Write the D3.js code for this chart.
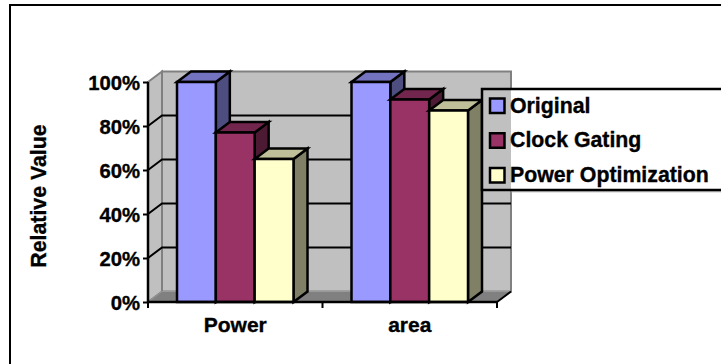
<!DOCTYPE html>
<html>
<head>
<meta charset="utf-8">
<script src="https://cdn.jsdelivr.net/npm/d3@7"></script>
<style>
body{margin:0;background:#fff}
svg{display:block}
text{font-family:"Liberation Sans",Arial,sans-serif;font-weight:bold;fill:#000;stroke:#000;stroke-width:0.35px}
</style>
</head>
<body>
<div id="chart"></div>
<script>
var categories = ["Power","area"]
var seriesNames = ["Original","Clock Gating","Power Optimization"]
var original = [100,100]
var clockGating = [77,92]
var powerOpt = [65,87]
var yTicks = [0,20,40,60,80,100]
var seriesValues = [original,clockGating,powerOpt]

var faceColors = ["#9999ff","#993366","#ffffcc"]
var topColors = ["#7373bf","#73264d","#bfbf99"]
var sideColors = ["#4d4d80","#4d1a33","#808066"]

var svg = d3.select("#chart").append("svg").attr("width",721).attr("height",364)

//* outer frame, only top and left are visible
svg.append("path").attr("d","M10,364V5H721").attr("fill","none").attr("stroke","#000").attr("stroke-width",2)

var x = d3.scaleBand().domain(categories).range([148,497])
var xBar = d3.scaleBand().domain(seriesNames).range([29,145.5])
var y = d3.scaleLinear().domain([0,100]).range([302,82])
var dx = 14, dy = -10.5  //depth of the 3d box

function poly(g,pts,fill,stroke,w){
    return g.append("polygon").attr("points",pts.map(p => p.join(",")).join(" "))
        .attr("fill",fill).attr("stroke",stroke).attr("stroke-width",w).attr("stroke-linejoin","miter")
}

//* walls and floor
var x0 = x.range()[0], x1 = x.range()[1]
var walls = svg.append("g")
poly(walls,[[x0+dx,y(100)+dy],[x1+dx,y(100)+dy],[x1+dx,y(0)+dy],[x0+dx,y(0)+dy]],"#c0c0c0","#808080",2)
poly(walls,[[x0,y(100)],[x0+dx,y(100)+dy],[x0+dx,y(0)+dy],[x0,y(0)]],"#c0c0c0","#808080",2)
poly(walls,[[x0,y(0)],[x0+dx,y(0)+dy],[x1+dx,y(0)+dy],[x1,y(0)]],"#808080","#999999",1)

//* gridlines on the back wall, with the diagonal on the side wall
yTicks.filter(t => t>0 && t<100).forEach(t => {
    walls.append("path").attr("d","M"+x0+","+y(t)+"L"+(x0+dx)+","+(y(t)+dy)+"H"+(x1+dx))
        .attr("fill","none").attr("stroke","#000").attr("stroke-width",2)
})
walls.append("line").attr("x1",x1).attr("y1",y(0)).attr("x2",x1+dx).attr("y2",y(0)+dy)
    .attr("stroke","#000").attr("stroke-width",2)

//* bars, drawn left to right so the next bar covers the side of the previous one
var bars = svg.append("g")
categories.forEach((c,i) => {
    seriesNames.forEach((s,j) => {
        var l = x(c)+xBar(s), r = l+xBar.bandwidth(), t = y(seriesValues[j][i]), b = y(0)
        poly(bars,[[r,t],[r+dx,t+dy],[r+dx,b+dy],[r,b]],sideColors[j],"#000",2.5)
        poly(bars,[[l,t],[l+dx,t+dy],[r+dx,t+dy],[r,t]],topColors[j],"#000",2.5)
        poly(bars,[[l,t],[r,t],[r,b],[l,b]],faceColors[j],"#000",2.5)
    })
})

//* axes
var yAxis = svg.append("g").attr("transform","translate("+x0+",0)")
    .call(d3.axisLeft(y).tickValues(yTicks).tickFormat(d => d+"%").tickSize(5).tickPadding(3))
yAxis.selectAll("path").attr("stroke","#000").attr("stroke-width",2.5).attr("d","M0,"+y(100)+"V"+(y(0)+1))
yAxis.selectAll("line").attr("stroke","#000").attr("stroke-width",2)
yAxis.selectAll("text").style("font-family",null).style("font-size","20.3px").attr("dy","0.36em")

var xAxis = svg.append("g").attr("transform","translate(0,"+y(0)+")")
    .call(d3.axisBottom(x).tickSize(0).tickPadding(15))
xAxis.selectAll("path").attr("stroke","#000").attr("stroke-width",2.5).attr("d","M"+x0+",0H"+x1)
xAxis.selectAll("text").style("font-size","21px").attr("dy","0.71em")
//? ticks sit on the band edges, not on the centers
var edges = categories.map(c => x(c)).concat([x1])
svg.append("g").selectAll("line").data(edges).join("line")
    .attr("x1",d => d).attr("x2",d => d).attr("y1",y(0)).attr("y2",y(0)+6)
    .attr("stroke","#000").attr("stroke-width",2)

svg.append("text").attr("transform","translate(46,196) rotate(-90)")
    .attr("text-anchor","middle").style("font-size","21.3px").text("Relative Value")

//* legend: the wall continues behind it, gridlines do not
var legend = svg.append("g")
legend.append("rect").attr("x",482).attr("y",89).attr("width",242).attr("height",101).attr("fill","#fff")
legend.append("rect").attr("x",482).attr("y",89).attr("width",29).attr("height",101).attr("fill","#c0c0c0")
legend.append("line").attr("x1",511).attr("x2",721).attr("y1",191.8).attr("y2",191.8).attr("stroke","#b0b0b0").attr("stroke-width",1)
legend.append("rect").attr("x",482).attr("y",89).attr("width",242).attr("height",101)
    .attr("fill","none").attr("stroke","#000").attr("stroke-width",2.5)
var legendY = d3.scalePoint().domain(seriesNames).range([105.5,175])
seriesNames.forEach((s,j) => {
    legend.append("rect").attr("x",490).attr("y",legendY(s)-7).attr("width",14.5).attr("height",14.5)
        .attr("fill",faceColors[j]).attr("stroke","#000").attr("stroke-width",2.5)
    legend.append("text").attr("x",510).attr("y",legendY(s)+7).style("font-size","21.3px").text(s)
})
</script>
</body>
</html>
